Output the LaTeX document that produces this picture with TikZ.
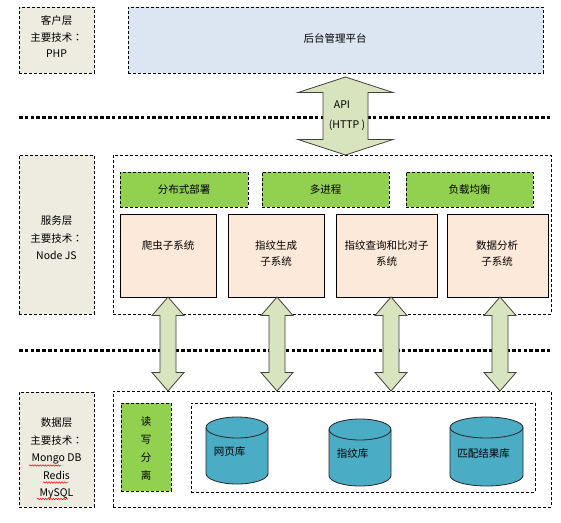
\documentclass[tikz,border=0pt]{standalone}
\usepackage{fontspec}
\setmainfont{Noto Sans CJK SC}
\newfontfamily\tcfont{Noto Sans CJK TC}
\newcommand\zcolon{{\tcfont ：}}
\usetikzlibrary{calc,decorations.pathmorphing}
\definecolor{layerfill}{HTML}{EEECE1}
\definecolor{adminfill}{HTML}{DCE6F2}
\definecolor{greenfill}{HTML}{92D050}
\definecolor{subfill}{HTML}{FDE9D9}
\definecolor{arrowfill}{HTML}{D7E4BD}
\definecolor{dbfill}{HTML}{4BACC6}
\tikzset{
  dashbox/.style={draw=black, line width=0.8pt, dash pattern=on 3pt off 2pt, anchor=north west, inner sep=0pt},
  layerbox/.style={dashbox, fill=layerfill},
  adminbox/.style={dashbox, fill=adminfill},
  greenbox/.style={dashbox, fill=greenfill},
  plainbox/.style={dashbox},
  subbox/.style={draw=black, line width=0.8pt, fill=subfill, anchor=north west, inner sep=0pt},
  txt/.style={font=\fontsize{10.5pt}{12pt}\selectfont, anchor=base, inner sep=0pt},
  dotline/.style={line width=3pt, dash pattern=on 3.5pt off 2.3pt},
  bigarrow/.style={draw=black!75, line width=0.8pt, fill=arrowfill, line join=miter},
  dbshape/.style={draw=black!85, line width=0.8pt, fill=dbfill},
  squig/.style={draw=red, line width=0.5pt, decorate, decoration={snake, amplitude=0.7pt, segment length=2.6pt}}
}
% vertical double arrow: #1 top, #2 bottom, #3 half head, #4 half shaft, #5 head length
\newcommand\vdarrow[5]{%
  \draw[bigarrow] let \p1=(#1), \p2=(#2) in
    (\x1,\y1) -- (\x1+#3,\y1-#5) -- (\x1+#4,\y1-#5) -- (\x1+#4,\y2+#5)
    -- (\x1+#3,\y2+#5) -- (\x1,\y2) -- (\x1-#3,\y2+#5) -- (\x1-#4,\y2+#5)
    -- (\x1-#4,\y1-#5) -- (\x1-#3,\y1-#5) -- cycle;}
% cylinder: #1 cx, #2 top, #3 bottom, #4 rx
\newcommand\dbcyl[4]{%
  \draw[dbshape] (#1-#4,#2+10.5) -- (#1-#4,#3-10.5)
    arc[start angle=180,end angle=360,x radius=#4pt,y radius=10.5pt]
    -- (#1+#4,#2+10.5)
    arc[start angle=0,end angle=180,x radius=#4pt,y radius=10.5pt] -- cycle;
  \draw[dbshape, fill=none] (#1-#4,#2+10.5)
    arc[start angle=180,end angle=360,x radius=#4pt,y radius=10.5pt];}
\begin{document}
\begin{tikzpicture}[x=1pt,y=-1pt]
\useasboundingbox[fill=white] (0,0) rectangle (561,522);

% client layer
\node[layerbox, minimum width=75pt, minimum height=66pt] (client) at (19,7) {};
\node[txt] (c1) at (56.5,24.3) {客户层};
\node[txt] (c2) at (56.5,41.8) {主要技术\zcolon};
\node[txt] (c3) at (56.5,57.8) {PHP};
\node[adminbox, minimum width=415pt, minimum height=66pt] (admin) at (128,7) {};
\node[txt] (admintxt) at (335,42.8) {后台管理平台};

% dotted separator 1
\coordinate (d1a) at (19,117);
\coordinate (d1b) at (551,117);
\draw[dotline] (d1a) -- (d1b);

% API arrow
\coordinate (apit) at (345.5,77);
\coordinate (apib) at (345.5,155);
\vdarrow{apit}{apib}{47.5pt}{22.5pt}{15.5pt}
\node[txt] (api1) at (342,108.8) {API};
\node[txt] (api2) at (347,128.8) {(HTTP )};

% service layer
\node[layerbox, minimum width=75pt, minimum height=159pt] (service) at (19,155) {};
\node[txt] (sv1) at (56.5,224.8) {服务层};
\node[txt] (sv2) at (56.5,242.8) {主要技术\zcolon};
\node[txt] (sv3) at (56.5,259.8) {Node JS};
\node[plainbox, minimum width=438pt, minimum height=159pt] (svout) at (113,155) {};

\node[greenbox, minimum width=128pt, minimum height=35pt] (g1) at (120,172) {};
\node[greenbox, minimum width=127pt, minimum height=35pt] (g2) at (262,172) {};
\node[greenbox, minimum width=127pt, minimum height=35pt] (g3) at (406,172) {};
\node[txt] (g1t) at (184,193.3) {分布式部署};
\node[txt] (g2t) at (325.5,193.3) {多进程};
\node[txt] (g3t) at (469.5,193.3) {负载均衡};

\node[subbox, minimum width=96pt, minimum height=83pt] (s1) at (120,214) {};
\node[subbox, minimum width=96pt, minimum height=83pt] (s2) at (228,214) {};
\node[subbox, minimum width=101pt, minimum height=83pt] (s3) at (336,214) {};
\node[subbox, minimum width=101pt, minimum height=83pt] (s4) at (447,214) {};
\node[txt] (s1a) at (168,249.8) {爬虫子系统};
\node[txt] (s2a) at (276,249.8) {指纹生成};
\node[txt] (s2b) at (276,265.8) {子系统};
\node[txt] (s3a) at (386.5,249.8) {指纹查询和比对子};
\node[txt] (s3b) at (386.5,265.8) {系统};
\node[txt] (s4a) at (497,249.8) {数据分析};
\node[txt] (s4b) at (497,265.8) {子系统};

% dotted separator 2
\coordinate (d2a) at (19,350);
\coordinate (d2b) at (551,350);
\draw[dotline] (d2a) -- (d2b);

% arrows between service and data
\coordinate (a1t) at (168,297); \coordinate (a1b) at (168,391);
\coordinate (a2t) at (277,297); \coordinate (a2b) at (277,391);
\coordinate (a3t) at (391,297); \coordinate (a3b) at (391,391);
\coordinate (a4t) at (500,297); \coordinate (a4b) at (500,391);
\vdarrow{a1t}{a1b}{16pt}{8pt}{18.5pt}
\vdarrow{a2t}{a2b}{16pt}{8pt}{18.5pt}
\vdarrow{a3t}{a3b}{16pt}{8pt}{18.5pt}
\vdarrow{a4t}{a4b}{16pt}{8pt}{18.5pt}

% data layer
\node[layerbox, minimum width=75pt, minimum height=115pt] (data) at (19,392) {};
\node[txt] (dt1) at (56.5,426.8) {数据层};
\node[txt] (dt2) at (56.5,444.8) {主要技术\zcolon};
\node[txt] (dt3) at (56.5,461.8) {Mongo DB};
\node[txt] (dt4) at (56.5,479.8) {Redis};
\node[txt] (dt5) at (56.5,496.8) {MySQL};
\draw[squig] (29,465.5) -- (61,465.5);
\draw[squig] (43,482.5) -- (68,482.5);
\draw[squig] (37,499) -- (68,499);

\node[plainbox, minimum width=438pt, minimum height=116pt] (dataout) at (113,391) {};
\node[greenbox, minimum width=50pt, minimum height=88pt] (rw) at (121,403) {};
\node[txt] (rw1) at (146,425.8) {读};
\node[txt] (rw2) at (146,443.8) {写};
\node[txt] (rw3) at (146,461.8) {分};
\node[txt] (rw4) at (146,479.8) {离};
\node[plainbox, minimum width=344pt, minimum height=89pt] (dbbox) at (191,403) {};

\dbcyl{237}{417}{484}{31}
\dbcyl{360}{419}{486}{31}
\dbcyl{486.5}{417}{486}{36.5}
\node[txt] (db1) at (229.5,455.8) {网页库};
\node[txt] (db2) at (352.5,457.8) {指纹库};
\node[txt] (db3) at (483.5,457.8) {匹配结果库};
\end{tikzpicture}
\end{document}
